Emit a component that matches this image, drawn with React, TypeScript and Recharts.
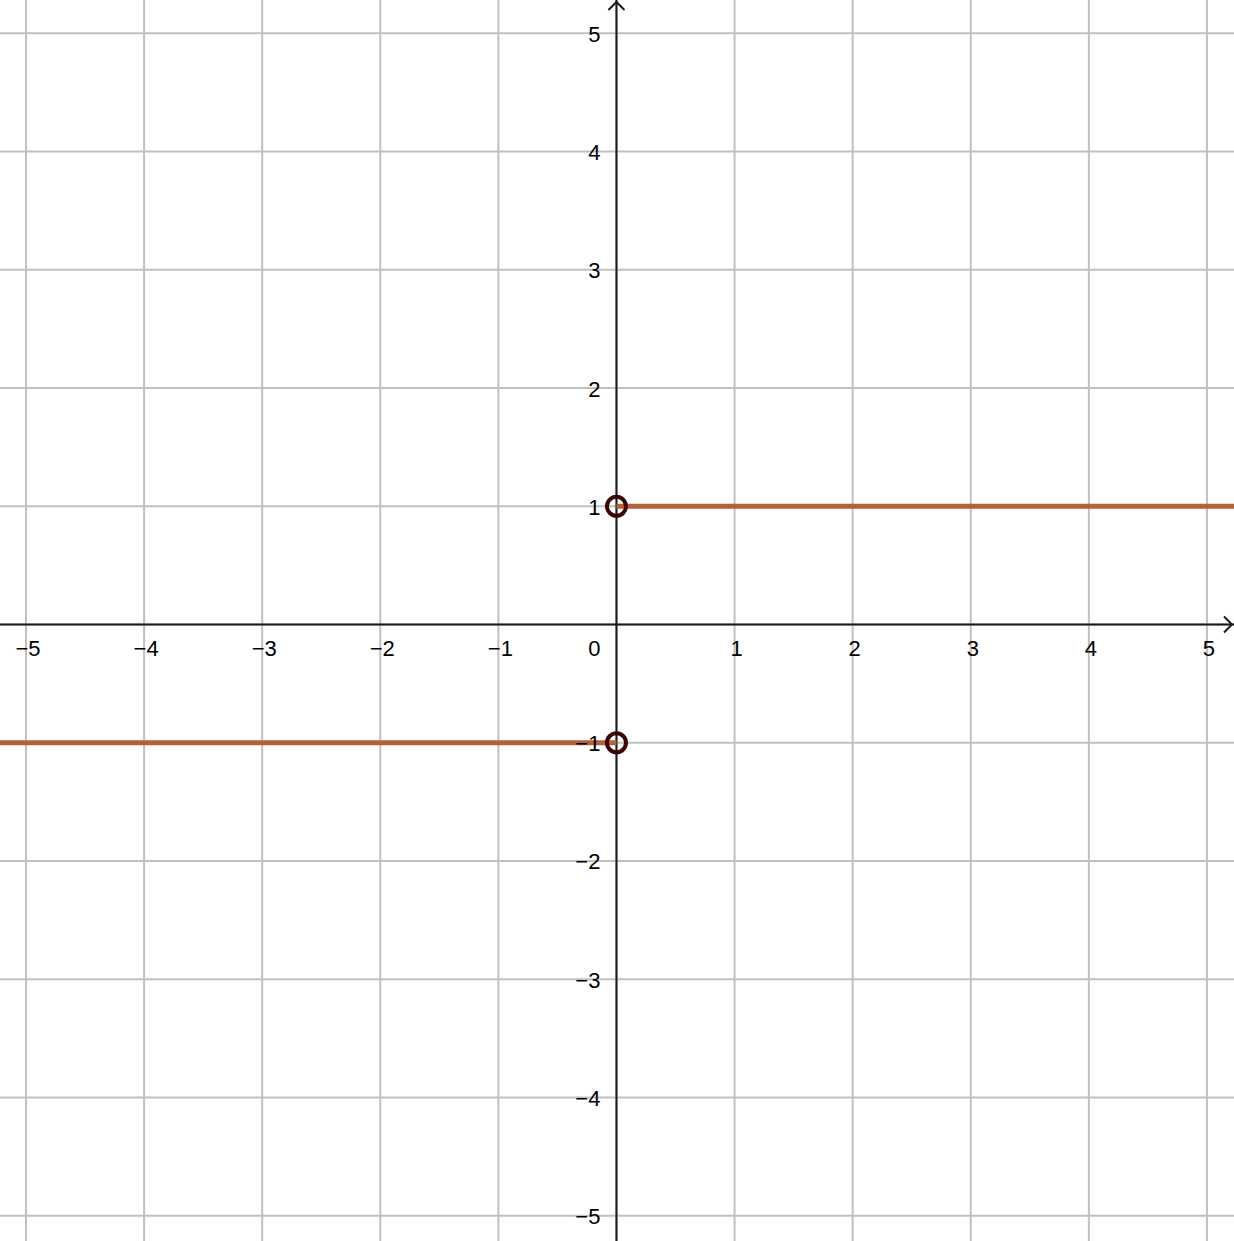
import React from 'react';
import { ComposedChart, XAxis, YAxis, Scatter, ReferenceLine, ReferenceDot } from 'recharts';

const X_MIN = -5.22;
const X_MAX = 5.229;
const Y_MIN = -5.214;
const Y_MAX = 5.282;

const gridValues = [-5, -4, -3, -2, -1, 0, 1, 2, 3, 4, 5];
const xTickValues = [-5, -4, -3, -2, -1, 1, 2, 3, 4, 5];
const yTickValues = [-5, -4, -3, -2, -1, 1, 2, 3, 4, 5];

const leftBranch = [
  { x: X_MIN, y: -1 },
  { x: 0, y: -1 },
];
const rightBranch = [
  { x: 0, y: 1 },
  { x: X_MAX, y: 1 },
];
const openPoints = [
  { x: 0, y: 1 },
  { x: 0, y: -1 },
];

const fmt = (v: number) => (v < 0 ? '\u2212' + Math.abs(v) : String(v));

const xLabelData = xTickValues.map((v) => ({ x: v, y: 0, label: fmt(v) }));
const yLabelData = yTickValues.map((v) => ({ x: 0, y: v, label: fmt(v) }));
const originLabel = [{ x: 0, y: 0, label: '0' }];

const FONT = '"Liberation Sans", Arial, sans-serif';
const FS = 22;
const GRID = '#c0c0c0';
const AXIS = '#1a1a1a';
const CURVE = '#b4603a';
const POINT = '#3c0505';

const NoShape = () => <g />;

const XLabel = (p: any) => (
  <text x={p.cx + 2} y={p.cy + 24} textAnchor="middle" dominantBaseline="central" fontFamily={FONT} fontSize={FS} fill="#000">
    {p.payload.label}
  </text>
);
const YLabel = (p: any) => (
  <text x={p.cx - 16} y={p.cy + 1} textAnchor="end" dominantBaseline="central" fontFamily={FONT} fontSize={FS} fill="#000">
    {p.payload.label}
  </text>
);
const OLabel = (p: any) => (
  <text x={p.cx - 16} y={p.cy + 24} textAnchor="end" dominantBaseline="central" fontFamily={FONT} fontSize={FS} fill="#000">
    {p.payload.label}
  </text>
);
const OpenCircle = (p: any) => (
  <circle cx={p.cx} cy={p.cy} r={9.5} fill="none" stroke={POINT} strokeWidth={4} />
);
const UpArrow = (p: any) => (
  <path d={`M${p.cx - 8},${p.cy + 10} L${p.cx},${p.cy + 2} L${p.cx + 8},${p.cy + 10}`} fill="none" stroke={AXIS} strokeWidth={2} />
);
const RightArrow = (p: any) => (
  <path d={`M${p.cx - 10},${p.cy - 8} L${p.cx - 2},${p.cy} L${p.cx - 10},${p.cy + 8}`} fill="none" stroke={AXIS} strokeWidth={2} />
);

export default function App() {
  return (
    <div style={{ position: 'absolute', left: 0, top: 0, width: 1234, height: 1241, background: '#fff' }}>
      <ComposedChart width={1234} height={1241} margin={{ top: 0, right: 0, bottom: 0, left: 0 }}>
        <XAxis type="number" dataKey="x" domain={[X_MIN, X_MAX]} allowDataOverflow hide />
        <YAxis type="number" dataKey="y" domain={[Y_MIN, Y_MAX]} allowDataOverflow hide width={0} />
        {gridValues.map((v) => (
          <ReferenceLine key={'gx' + v} x={v} stroke={GRID} strokeWidth={2} ifOverflow="visible" />
        ))}
        {gridValues.map((v) => (
          <ReferenceLine key={'gy' + v} y={v} stroke={GRID} strokeWidth={2} ifOverflow="visible" />
        ))}
        <ReferenceLine x={0} stroke={AXIS} strokeWidth={2} ifOverflow="visible" />
        <ReferenceLine y={0} stroke={AXIS} strokeWidth={2} ifOverflow="visible" />
        <ReferenceDot x={0} y={Y_MAX} r={0} ifOverflow="visible" shape={UpArrow} />
        <ReferenceDot x={X_MAX} y={0} r={0} ifOverflow="visible" shape={RightArrow} />
        <Scatter data={leftBranch} line={{ stroke: CURVE, strokeWidth: 5 }} lineType="joint" shape={NoShape} isAnimationActive={false} />
        <Scatter data={rightBranch} line={{ stroke: CURVE, strokeWidth: 5 }} lineType="joint" shape={NoShape} isAnimationActive={false} />
        <Scatter data={xLabelData} shape={XLabel} isAnimationActive={false} />
        <Scatter data={yLabelData} shape={YLabel} isAnimationActive={false} />
        <Scatter data={originLabel} shape={OLabel} isAnimationActive={false} />
        <Scatter data={openPoints} shape={OpenCircle} isAnimationActive={false} />
      </ComposedChart>
    </div>
  );
}
